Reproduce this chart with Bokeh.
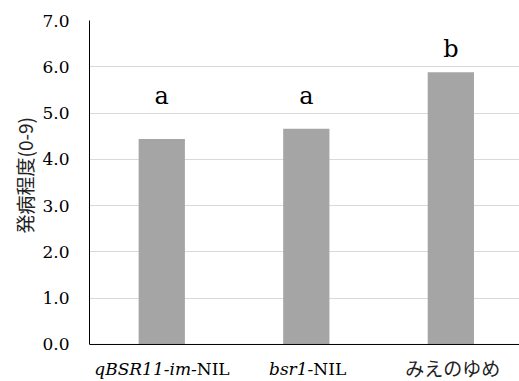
from bokeh.plotting import figure
from bokeh.models import Range1d, FixedTicker, PrintfTickFormatter, Span, Title, ColumnDataSource
from bokeh.core.properties import value
from bokeh.embed import file_html
from bokeh.resources import INLINE

# ---- data ----
categories = ["qBSR11-im-NIL", "bsr1-NIL", "みえのゆめ"]
italic_parts = ["qBSR11-im-", "bsr1-", ""]
normal_parts = ["NIL", "NIL", "みえのゆめ"]
values = [4.44, 4.66, 5.88]
letters = ["a", "a", "b"]
letter_y = [5.36, 5.36, 6.38]
y_ticks = [0, 1, 2, 3, 4, 5, 6, 7]
y_label = "発病程度(0-9)"

SERIF = "DejaVu Serif"
CJK = "Noto Sans CJK JP"

p = figure(width=519, height=381, output_backend="svg", toolbar_location=None,
           x_range=Range1d(0, 2.975), y_range=Range1d(-0.8, 7),
           min_border_left=89, min_border_right=0, min_border_top=20, min_border_bottom=0)
p.outline_line_color = None
p.background_fill_color = "white"
p.border_fill_color = "white"

xs = [i + 0.5 for i in range(len(categories))]
p.vbar(x=xs, top=values, width=0.32, fill_color="#a5a5a5", line_color=None)

# grid
p.xgrid.grid_line_color = None
p.ygrid.grid_line_color = "#d9d9d9"
p.ygrid.grid_line_width = 1
p.ygrid.ticker = FixedTicker(ticks=y_ticks)

# y axis
p.yaxis.ticker = FixedTicker(ticks=y_ticks)
p.yaxis.bounds = (y_ticks[0], y_ticks[-1])
p.yaxis.formatter = PrintfTickFormatter(format="%.1f")
p.yaxis.major_tick_line_color = None
p.yaxis.minor_tick_line_color = None
p.yaxis.major_tick_out = 0
p.yaxis.major_tick_in = 0
p.yaxis.major_label_standoff = 20
p.yaxis.major_label_text_font = SERIF
p.yaxis.major_label_text_font_size = "17px"
p.yaxis.major_label_text_color = "black"
p.yaxis.axis_line_color = "black"
p.yaxis.axis_line_width = 1

# x axis: baseline only
p.xaxis.visible = False
p.add_layout(Span(location=0, dimension="width", line_color="black", line_width=1))

# category labels (italic + normal parts)
split_offsets = [35, 7, 2]
lat = [i for i in range(len(categories)) if italic_parts[i]]
src_lat = ColumnDataSource(dict(
    x=[xs[i] for i in lat],
    y=[0] * len(lat),
    xo=[split_offsets[i] for i in lat],
    it=[italic_parts[i] for i in lat],
    nm=[normal_parts[i] for i in lat],
))
p.text(x="x", y="y", text="it", x_offset="xo", y_offset=25, source=src_lat,
       text_align="right", text_baseline="alphabetic", text_font=value(SERIF),
       text_font_style="italic", text_font_size="17px", text_color="black")
p.text(x="x", y="y", text="nm", x_offset="xo", y_offset=25, source=src_lat,
       text_align="left", text_baseline="alphabetic", text_font=value(SERIF),
       text_font_size="17px", text_color="black")
jp = [i for i in range(len(categories)) if not italic_parts[i]]
src_jp = ColumnDataSource(dict(
    x=[xs[i] for i in jp],
    y=[0] * len(jp),
    xo=[split_offsets[i] for i in jp],
    nm=[normal_parts[i] for i in jp],
))
p.text(x="x", y="y", text="nm", x_offset="xo", y_offset=23, source=src_jp,
       text_align="center", text_baseline="alphabetic", text_font=value(CJK),
       text_font_size="19px", text_color="#222222")

# significance letters
p.text(x=xs, y=letter_y, text=letters, text_align="center", text_baseline="alphabetic",
       text_font=value(SERIF), text_font_size="24px", text_color="black")

# y-axis title
p.add_layout(Title(text=y_label, align="left", offset=148, standoff=4,
                   text_font=CJK, text_font_size="19px", text_font_style="normal",
                   text_color="#222222"), "left")

open("out.html", "w").write(file_html(p, INLINE))
